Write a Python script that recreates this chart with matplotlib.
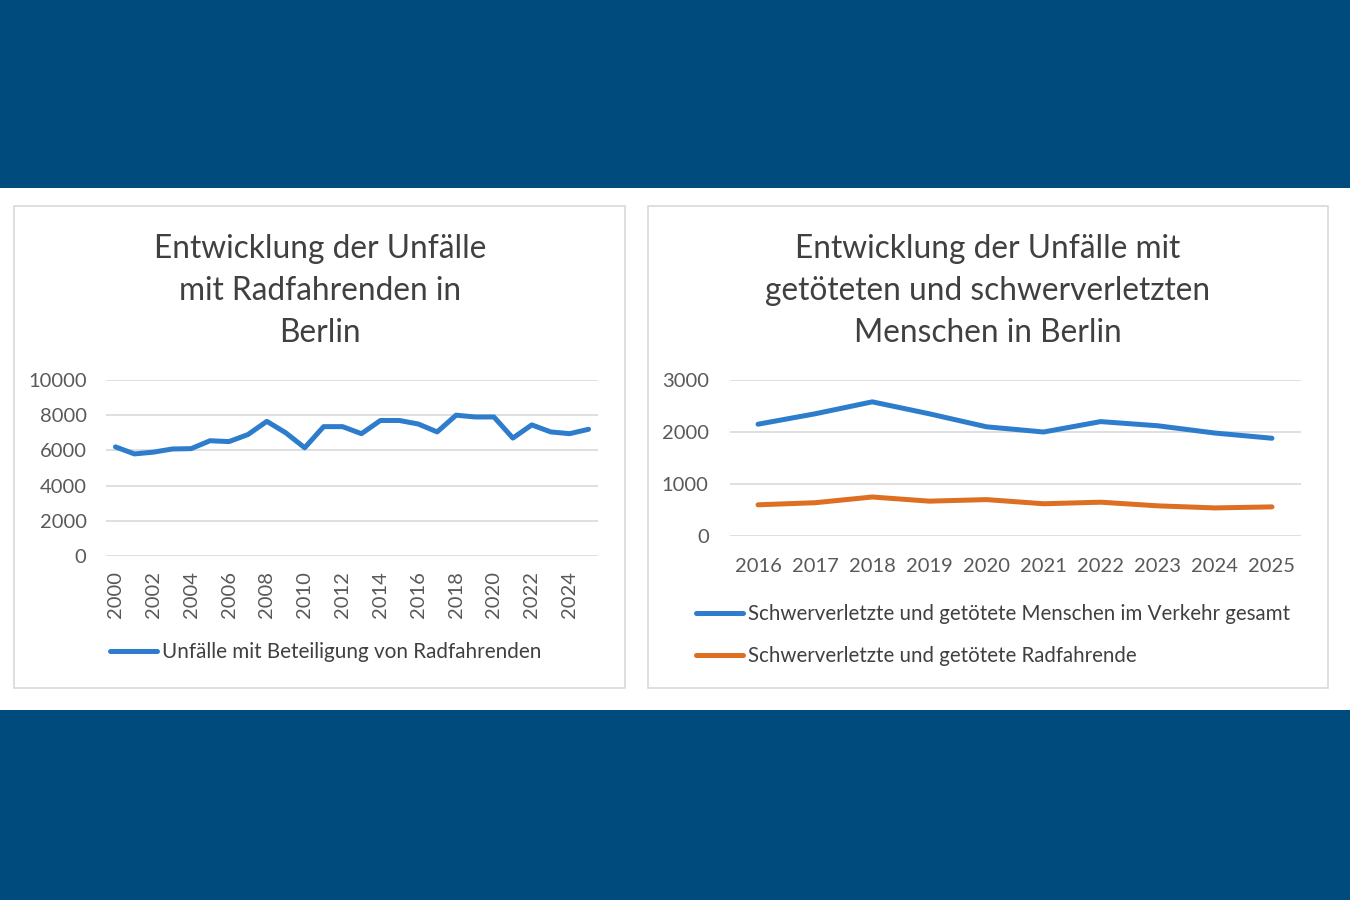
import matplotlib
matplotlib.use('Agg')
import matplotlib.pyplot as plt
from matplotlib.patches import Rectangle

plt.rcParams['font.family'] = ['Lato', 'DejaVu Sans']

# left chart data
years_left = list(range(2000, 2026))
bike_accidents = [6200, 5800, 5900, 6080, 6100, 6550, 6500, 6900, 7650, 7000,
                  6150, 7350, 7350, 6950, 7700, 7700, 7500, 7050, 8000, 7900,
                  7900, 6700, 7450, 7050, 6950, 7200]

# right chart data
years_right = list(range(2016, 2026))
total_injured = [2150, 2350, 2580, 2350, 2100, 2000, 2200, 2120, 1980, 1880]
bike_injured = [600, 640, 750, 670, 700, 620, 650, 580, 540, 560]

title_left = 'Entwicklung der Unfälle\nmit Radfahrenden in\nBerlin'
title_right = 'Entwicklung der Unfälle mit\ngetöteten und schwerverletzten\nMenschen in Berlin'
label_left = 'Unfälle mit Beteiligung von Radfahrenden'
label_total = 'Schwerverletzte und getötete Menschen im Verkehr gesamt'
label_bike = 'Schwerverletzte und getötete Radfahrende'

navy = '#004B7D'
blue = '#2E7CCC'
orange = '#DD6E22'
grid_c = '#D9D9D9'
tick_c = '#595959'
text_c = '#404040'

W, H = 1350, 900
fig = plt.figure(figsize=(13.5, 9), dpi=100)
fig.patch.set_facecolor(navy)


def fx(x):
    return x / W


def fy(y):
    return 1 - y / H


# white band
fig.patches.append(Rectangle((0, fy(710)), 1, fy(188) - fy(710),
                             transform=fig.transFigure, facecolor='white',
                             edgecolor='none', zorder=-3))
# panels
for x0, x1 in [(14, 625), (648, 1328)]:
    fig.patches.append(Rectangle((fx(x0), fy(688)), fx(x1 - x0), fy(206) - fy(688),
                                 transform=fig.transFigure, facecolor='white',
                                 edgecolor='#D9D9D9', linewidth=1.2, zorder=-2))


def style(ax):
    ax.set_facecolor('none')
    for s in ax.spines.values():
        s.set_visible(False)
    ax.grid(axis='y', color=grid_c, linewidth=1.2)
    ax.set_axisbelow(True)
    ax.tick_params(length=0, colors=tick_c, labelsize=14.5)


# left chart
ax1 = fig.add_axes([fx(106), fy(556), fx(492), fy(380) - fy(556)])
style(ax1)
x_idx = list(range(len(years_left)))
ax1.plot(x_idx, bike_accidents, color=blue, linewidth=3.6, label=label_left,
         solid_capstyle='round', solid_joinstyle='round')
ax1.set_ylim(0, 10000)
ax1.set_yticks([0, 2000, 4000, 6000, 8000, 10000])
ax1.set_xlim(-0.5, len(years_left) - 0.5)
ax1.set_xticks(x_idx[::2])
ax1.set_xticklabels([str(y) for y in years_left[::2]], rotation=90)
ax1.tick_params(axis='x', pad=11)
ax1.tick_params(axis='y', pad=14)
fig.text(fx(320), fy(291), title_left, ha='center', va='center', fontsize=22.8,
         color=text_c, linespacing=1.5)
ax1.legend(loc='center left', bbox_to_anchor=(fx(91), fy(652)),
           bbox_transform=fig.transFigure, frameon=False, fontsize=14.9,
           handlelength=2.3, handletextpad=0.25, labelcolor=text_c)

# right chart
ax2 = fig.add_axes([fx(729.5), fy(536), fx(571), fy(380) - fy(536)])
style(ax2)
r_idx = list(range(len(years_right)))
ax2.plot(r_idx, total_injured, color=blue, linewidth=3.6, label=label_total,
         solid_capstyle='round', solid_joinstyle='round')
ax2.plot(r_idx, bike_injured, color=orange, linewidth=3.6, label=label_bike,
         solid_capstyle='round', solid_joinstyle='round')
ax2.set_ylim(0, 3000)
ax2.set_yticks([0, 1000, 2000, 3000])
ax2.set_xlim(-0.5, len(years_right) - 0.5)
ax2.set_xticks(r_idx)
ax2.set_xticklabels([str(y) for y in years_right])
ax2.tick_params(axis='x', pad=16)
ax2.tick_params(axis='y', pad=15)
fig.text(fx(988), fy(291), title_right, ha='center', va='center', fontsize=22.8,
         color=text_c, linespacing=1.5)
ax2.legend(loc='center left', bbox_to_anchor=(fx(677), fy(635)),
           bbox_transform=fig.transFigure, frameon=False, fontsize=14.8,
           handlelength=2.3, handletextpad=0.25, labelspacing=1.05,
           labelcolor=text_c)

fig.savefig('out.png', dpi=100, facecolor=fig.get_facecolor())
